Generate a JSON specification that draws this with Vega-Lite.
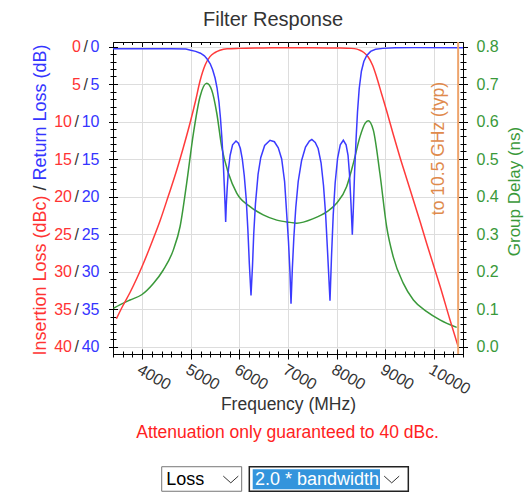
{
"$schema": "https://vega.github.io/schema/vega-lite/v6.json",
"width": 350, "height": 312,
"autosize": {"type": "none"},
"padding": {"left": 113, "top": 42, "right": 64, "bottom": 138},
"background": "#ffffff",
"title": {"text": "Filter Response", "font": "Liberation Sans", "fontSize": 20, "fontWeight": "normal", "color": "#333333", "anchor": "middle", "frame": "group", "dx": -15, "dy": 21, "offset": 14, "baseline": "alphabetic"},
"config": {"font": "Liberation Sans", "view": {"stroke": "#000000", "strokeWidth": 1},
  "axis": {"labelFont": "Liberation Sans", "titleFont": "Liberation Sans", "titleFontWeight": "normal", "tickColor": "#000000", "tickWidth": 1, "labelFlush": false, "labelOverlap": false, "gridColor": "#dddddd", "gridWidth": 1}},
"datasets": {
"il": [{"f":3470,"il":36.3},{"f":3600,"il":34.6},{"f":3750,"il":32.8},{"f":4020,"il":29.0},{"f":4200,"il":26.1},{"f":4370,"il":23.2},{"f":4540,"il":19.9},{"f":4710,"il":16.5},{"f":4850,"il":13.4},{"f":4985,"il":10.2},{"f":5100,"il":7.2},{"f":5190,"il":4.6},{"f":5300,"il":2.4},{"f":5395,"il":1.35},{"f":5500,"il":0.8},{"f":5600,"il":0.5},{"f":5750,"il":0.3},{"f":6000,"il":0.25},{"f":6500,"il":0.2},{"f":7000,"il":0.15},{"f":7500,"il":0.15},{"f":8000,"il":0.2},{"f":8300,"il":0.25},{"f":8420,"il":0.35},{"f":8480,"il":0.5},{"f":8560,"il":0.8},{"f":8650,"il":1.4},{"f":8740,"il":2.5},{"f":8820,"il":4.0},{"f":8920,"il":6.2},{"f":9030,"il":8.6},{"f":9160,"il":11.6},{"f":9300,"il":14.7},{"f":9440,"il":17.6},{"f":9580,"il":20.5},{"f":9720,"il":23.4},{"f":9850,"il":26.2},{"f":9990,"il":29.1},{"f":10130,"il":32.0},{"f":10330,"il":36.4},{"f":10500,"il":40.0}],
"rl": [{"f":3400,"rl":0.3},{"f":4000,"rl":0.3},{"f":4600,"rl":0.3},{"f":4900,"rl":0.33},{"f":5000,"rl":0.5},{"f":5100,"rl":0.65},{"f":5200,"rl":0.9},{"f":5280,"rl":1.25},{"f":5340,"rl":1.7},{"f":5400,"rl":2.3},{"f":5450,"rl":3.1},{"f":5500,"rl":4.2},{"f":5540,"rl":5.5},{"f":5580,"rl":7.4},{"f":5610,"rl":9.5},{"f":5640,"rl":12.2},{"f":5665,"rl":15.0},{"f":5690,"rl":18.6},{"f":5705,"rl":21.0},{"f":5718,"rl":23.4},{"f":5730,"rl":21.2},{"f":5750,"rl":18.8},{"f":5775,"rl":16.4},{"f":5810,"rl":14.5},{"f":5860,"rl":13.1},{"f":5930,"rl":12.6},{"f":5980,"rl":12.9},{"f":6020,"rl":13.6},{"f":6060,"rl":15.0},{"f":6100,"rl":17.2},{"f":6140,"rl":20.3},{"f":6175,"rl":24.5},{"f":6205,"rl":29.0},{"f":6239,"rl":33.2},{"f":6270,"rl":29.2},{"f":6295,"rl":25.0},{"f":6330,"rl":21.0},{"f":6385,"rl":17.0},{"f":6440,"rl":14.8},{"f":6520,"rl":13.2},{"f":6630,"rl":12.5},{"f":6720,"rl":12.7},{"f":6800,"rl":13.5},{"f":6870,"rl":15.0},{"f":6930,"rl":18.0},{"f":6975,"rl":22.5},{"f":7010,"rl":26.0},{"f":7040,"rl":30.0},{"f":7062,"rl":34.3},{"f":7090,"rl":29.5},{"f":7120,"rl":25.5},{"f":7160,"rl":21.5},{"f":7210,"rl":18.0},{"f":7280,"rl":15.2},{"f":7360,"rl":13.4},{"f":7440,"rl":12.6},{"f":7490,"rl":12.4},{"f":7560,"rl":12.8},{"f":7620,"rl":13.6},{"f":7680,"rl":15.5},{"f":7730,"rl":18.5},{"f":7775,"rl":22.5},{"f":7815,"rl":27.5},{"f":7864,"rl":33.9},{"f":7895,"rl":28.0},{"f":7930,"rl":22.5},{"f":7970,"rl":18.2},{"f":8020,"rl":14.9},{"f":8075,"rl":13.1},{"f":8138,"rl":12.5},{"f":8195,"rl":13.1},{"f":8235,"rl":14.5},{"f":8265,"rl":17.0},{"f":8296,"rl":21.0},{"f":8323,"rl":25.1},{"f":8345,"rl":21.5},{"f":8370,"rl":16.8},{"f":8400,"rl":12.4},{"f":8430,"rl":8.7},{"f":8465,"rl":5.6},{"f":8510,"rl":3.3},{"f":8560,"rl":2.0},{"f":8620,"rl":1.2},{"f":8700,"rl":0.65},{"f":8800,"rl":0.38},{"f":8950,"rl":0.25},{"f":9200,"rl":0.18},{"f":9600,"rl":0.15},{"f":10600,"rl":0.15}],
"gd": [{"f":3410,"gd":0.102},{"f":3540,"gd":0.111},{"f":3750,"gd":0.124},{"f":3990,"gd":0.138},{"f":4230,"gd":0.168},{"f":4435,"gd":0.204},{"f":4640,"gd":0.257},{"f":4780,"gd":0.32},{"f":4915,"gd":0.435},{"f":5055,"gd":0.569},{"f":5190,"gd":0.666},{"f":5327,"gd":0.702},{"f":5430,"gd":0.684},{"f":5535,"gd":0.622},{"f":5635,"gd":0.533},{"f":5775,"gd":0.462},{"f":5945,"gd":0.409},{"f":6220,"gd":0.373},{"f":6490,"gd":0.351},{"f":6770,"gd":0.337},{"f":7040,"gd":0.331},{"f":7180,"gd":0.329},{"f":7520,"gd":0.341},{"f":7795,"gd":0.359},{"f":8000,"gd":0.382},{"f":8205,"gd":0.426},{"f":8345,"gd":0.489},{"f":8480,"gd":0.559},{"f":8585,"gd":0.595},{"f":8650,"gd":0.602},{"f":8755,"gd":0.577},{"f":8890,"gd":0.462},{"f":9030,"gd":0.319},{"f":9165,"gd":0.239},{"f":9370,"gd":0.169},{"f":9580,"gd":0.124},{"f":9855,"gd":0.093},{"f":10125,"gd":0.071},{"f":10470,"gd":0.051}]
},
"resolve": {"scale": {"y": "independent"}, "axis": {"x": "independent", "y": "independent"}},
"layer": [
{"data": {"name": "gd"}, "mark": {"type": "line", "color": "#3a993a", "strokeWidth": 1.5, "interpolate": "monotone"},
 "encoding": {
  "x": {"field": "f", "type": "quantitative", "scale": {"domain": [3400, 10600], "nice": false, "zero": false},
        "axis": {"orient": "bottom", "values": [3400,3600,3800,4000,4200,4400,4600,4800,5000,5200,5400,5600,5800,6000,6200,6400,6600,6800,7000,7200,7400,7600,7800,8000,8200,8400,8600,8800,9000,9200,9400,9600,9800,10000,10200,10400,10600], "offset": -3, "tickSize": 6, "labels": false, "domain": false, "grid": false,
                 "title": "Attenuation only guaranteed to 40 dBc.", "titleColor": "#ff2222", "titleFontSize": 17.5, "titleX": 174, "titleY": 86, "titleAlign": "center", "titleBaseline": "alphabetic", "titleAngle": 0}},
  "y": {"field": "gd", "type": "quantitative", "scale": {"domain": [-0.02, 0.812], "nice": false, "zero": false},
        "axis": {"orient": "right", "values": [0,0.1,0.2,0.3,0.4,0.5,0.6,0.7,0.8], "format": ".1f", "ticks": false, "tickSize": 0, "domain": false, "grid": false, "labelColor": "#3a993a", "labelFontSize": 16, "labelPadding": 13, "labelAlign": "left", "labelBaseline": "middle",
                 "title": "Group Delay (ns)", "titleColor": "#3a993a", "titleFontSize": 17, "titleAngle": 270, "titleX": 56, "titleY": 149, "titleAlign": "center", "titleBaseline": "alphabetic"}}
 }},
{"data": {"name": "il"}, "mark": {"type": "line", "color": "#ff3b3b", "strokeWidth": 1.5, "interpolate": "monotone"},
 "encoding": {
  "x": {"field": "f", "type": "quantitative", "scale": {"domain": [3400, 10600], "nice": false, "zero": false},
        "axis": {"orient": "bottom", "values": [4000,5000,6000,7000,8000,9000,10000], "format": "d", "ticks": false, "tickSize": 0, "domain": false, "grid": true, "labelAngle": 30, "labelAlign": "left", "labelBaseline": "top", "labelFontSize": 16, "labelColor": "#333333", "labelPadding": 7,
                 "title": "Frequency (MHz)", "titleColor": "#333333", "titleFontSize": 17.5, "titleX": 175, "titleY": 55.5, "titleAlign": "center", "titleBaseline": "alphabetic"}},
  "y": {"field": "il", "type": "quantitative", "scale": {"domain": [-0.6, 41], "reverse": true, "nice": false, "zero": false},
        "axis": {"orient": "left", "values": [0,5,10,15,20,25,30,35,40], "ticks": false, "tickSize": 0, "domain": false, "grid": true, "labelColor": "#ff3333", "labelFontSize": 16, "labelAlign": "right", "labelBaseline": "middle",
                 "labelPadding": {"condition": {"test": "datum.value < 10", "value": 32.5}, "value": 41.5},
                 "title": "Insertion Loss (dBc)", "titleColor": "#ff3333", "titleFontSize": 18, "titleAngle": 270, "titleX": -68, "titleY": 313, "titleAlign": "left", "titleBaseline": "alphabetic"}}
 }},
{"data": {"name": "rl"}, "mark": {"type": "line", "color": "#3b3bff", "strokeWidth": 1.5},
 "encoding": {
  "x": {"field": "f", "type": "quantitative", "scale": {"domain": [3400, 10600], "nice": false, "zero": false},
        "axis": {"orient": "bottom", "values": [4000,5000,6000,7000,8000,9000,10000], "offset": -5, "tickSize": 10, "labels": false, "domain": false, "grid": false, "title": null}},
  "y": {"field": "rl", "type": "quantitative", "scale": {"domain": [-0.6, 41], "reverse": true, "nice": false, "zero": false},
        "axis": {"orient": "left", "values": [0,5,10,15,20,25,30,35,40], "ticks": false, "tickSize": 0, "domain": false, "grid": false, "labelColor": "#3535ff", "labelFontSize": 16, "labelAlign": "right", "labelBaseline": "middle", "labelPadding": 14,
                 "title": "Return Loss (dB)", "titleColor": "#3535ff", "titleFontSize": 18, "titleAngle": 270, "titleX": -68, "titleY": 2, "titleAlign": "right", "titleBaseline": "alphabetic"}}
 }},
{"data": {"values": [{}]}, "mark": {"type": "rule", "color": "#eea46c", "strokeWidth": 2},
 "encoding": {
  "x": {"datum": 10500, "type": "quantitative", "scale": {"domain": [3400, 10600], "nice": false, "zero": false},
        "axis": {"orient": "top", "values": [4000,5000,6000,7000,8000,9000,10000], "offset": -4.5, "tickSize": 4.5, "labels": false, "domain": false, "grid": false, "title": null}}
 }},
{"data": {"values": [{}]}, "mark": {"type": "text", "text": "to 10.5 GHz (typ)", "angle": 270, "align": "center", "baseline": "alphabetic", "fontSize": 17.5, "color": "#e08a4c"},
 "encoding": {
  "x": {"datum": 10200, "type": "quantitative", "scale": {"domain": [3400, 10600], "nice": false, "zero": false},
        "axis": {"orient": "top", "values": [3400,3600,3800,4000,4200,4400,4600,4800,5000,5200,5400,5600,5800,6000,6200,6400,6600,6800,7000,7200,7400,7600,7800,8000,8200,8400,8600,8800,9000,9200,9400,9600,9800,10000,10200,10400,10600], "offset": -2.5, "tickSize": 2.5, "labels": false, "domain": false, "grid": false, "title": null}},
  "y": {"datum": 13.6, "type": "quantitative", "scale": {"domain": [-0.6, 41], "reverse": true, "nice": false, "zero": false},
        "axis": {"orient": "left", "values": [0,5,10,15,20,25,30,35,40], "ticks": false, "tickSize": 0, "domain": false, "grid": false, "labelExpr": "'/'", "labelColor": "#333333", "labelFontSize": 16, "labelAlign": "right", "labelBaseline": "middle",
                 "labelPadding": {"condition": {"test": "datum.value < 10", "value": 25.5}, "value": 34.5},
                 "title": "/", "titleColor": "#333333", "titleFontSize": 18, "titleAngle": 270, "titleX": -68, "titleY": 145.5, "titleAlign": "center", "titleBaseline": "alphabetic"}}
 }},
{"data": {"values": [{}]}, "mark": {"type": "rule", "opacity": 0},
 "encoding": {"y": {"datum": 0, "type": "quantitative", "scale": {"domain": [-0.6, 41], "reverse": true, "nice": false, "zero": false},
   "axis": {"orient": "left", "values": [0,5,10,15,20,25,30,35,40], "offset": -4.5, "tickSize": 9, "labels": false, "domain": false, "grid": false, "title": null}}}},
{"data": {"values": [{}]}, "mark": {"type": "rule", "opacity": 0},
 "encoding": {"y": {"datum": 0, "type": "quantitative", "scale": {"domain": [-0.6, 41], "reverse": true, "nice": false, "zero": false},
   "axis": {"orient": "left", "values": [0,1,2,3,4,5,6,7,8,9,10,11,12,13,14,15,16,17,18,19,20,21,22,23,24,25,26,27,28,29,30,31,32,33,34,35,36,37,38,39,40], "offset": -3, "tickSize": 6, "labels": false, "domain": false, "grid": false, "title": null}}}},
{"data": {"values": [{}]}, "mark": {"type": "rule", "opacity": 0},
 "encoding": {"y": {"datum": 0, "type": "quantitative", "scale": {"domain": [-0.02, 0.812], "nice": false, "zero": false},
   "axis": {"orient": "right", "values": [0,0.1,0.2,0.3,0.4,0.5,0.6,0.7,0.8], "offset": -4.5, "tickSize": 9, "labels": false, "domain": false, "grid": false, "title": null}}}},
{"data": {"values": [{}]}, "mark": {"type": "rule", "opacity": 0},
 "encoding": {"y": {"datum": 0, "type": "quantitative", "scale": {"domain": [-0.02, 0.812], "nice": false, "zero": false},
   "axis": {"orient": "right", "values": [0,0.02,0.04,0.06,0.08,0.1,0.12,0.14,0.16,0.18,0.2,0.22,0.24,0.26,0.28,0.3,0.32,0.34,0.36,0.38,0.4,0.42,0.44,0.46,0.48,0.5,0.52,0.54,0.56,0.58,0.6,0.62,0.64,0.66,0.68,0.7,0.72,0.74,0.76,0.78,0.8], "offset": -3, "tickSize": 6, "labels": false, "domain": false, "grid": false, "title": null}}}},
{"data": {"values": [{}]}, "mark": {"type": "rect", "fill": "#ffffff", "stroke": "#767676", "strokeWidth": 1},
 "encoding": {"x": {"datum": 4402, "type": "quantitative", "scale": {"domain": [3400, 10600], "nice": false, "zero": false}, "axis": null}, "x2": {"datum": 6047},
   "y": {"datum": 56.03, "type": "quantitative", "scale": {"domain": [-0.6, 41], "reverse": true, "nice": false, "zero": false}, "axis": null}, "y2": {"datum": 59.3}}},
{"data": {"values": [{}]}, "mark": {"type": "rect", "fill": "#ffffff", "stroke": "#222222", "strokeWidth": 1.5},
 "encoding": {"x": {"datum": 6204, "type": "quantitative", "scale": {"domain": [3400, 10600], "nice": false, "zero": false}, "axis": null}, "x2": {"datum": 9475},
   "y": {"datum": 56.03, "type": "quantitative", "scale": {"domain": [-0.6, 41], "reverse": true, "nice": false, "zero": false}, "axis": null}, "y2": {"datum": 59.3}}},
{"data": {"values": [{}]}, "mark": {"type": "rect", "fill": "#3394dc"},
 "encoding": {"x": {"datum": 6274, "type": "quantitative", "scale": {"domain": [3400, 10600], "nice": false, "zero": false}, "axis": null}, "x2": {"datum": 8892},
   "y": {"datum": 56.37, "type": "quantitative", "scale": {"domain": [-0.6, 41], "reverse": true, "nice": false, "zero": false}, "axis": null}, "y2": {"datum": 59.04}}},
{"data": {"values": [{}]}, "mark": {"type": "text", "text": "Loss", "align": "left", "baseline": "alphabetic", "fontSize": 18, "color": "#000000"},
 "encoding": {"x": {"datum": 4495, "type": "quantitative", "scale": {"domain": [3400, 10600], "nice": false, "zero": false}, "axis": null},
   "y": {"datum": 58.47, "type": "quantitative", "scale": {"domain": [-0.6, 41], "reverse": true, "nice": false, "zero": false}, "axis": null}}},
{"data": {"values": [{}]}, "mark": {"type": "text", "text": "2.0 * bandwidth", "align": "left", "baseline": "alphabetic", "fontSize": 18, "color": "#ffffff"},
 "encoding": {"x": {"datum": 6321, "type": "quantitative", "scale": {"domain": [3400, 10600], "nice": false, "zero": false}, "axis": null},
   "y": {"datum": 58.47, "type": "quantitative", "scale": {"domain": [-0.6, 41], "reverse": true, "nice": false, "zero": false}, "axis": null}}},
{"data": {"values": [{}]}, "mark": {"type": "point", "shape": "M-1,-0.45L0,0.45L1,-0.45", "size": 225, "filled": false, "stroke": "#333333", "strokeWidth": 1, "opacity": 1},
 "encoding": {"x": {"datum": 5823, "type": "quantitative", "scale": {"domain": [3400, 10600], "nice": false, "zero": false}, "axis": null},
   "y": {"datum": 57.73, "type": "quantitative", "scale": {"domain": [-0.6, 41], "reverse": true, "nice": false, "zero": false}, "axis": null}}},
{"data": {"values": [{}]}, "mark": {"type": "point", "shape": "M-1,-0.45L0,0.45L1,-0.45", "size": 225, "filled": false, "stroke": "#333333", "strokeWidth": 1, "opacity": 1},
 "encoding": {"x": {"datum": 9133, "type": "quantitative", "scale": {"domain": [3400, 10600], "nice": false, "zero": false}, "axis": null},
   "y": {"datum": 57.73, "type": "quantitative", "scale": {"domain": [-0.6, 41], "reverse": true, "nice": false, "zero": false}, "axis": null}}}
]
}
